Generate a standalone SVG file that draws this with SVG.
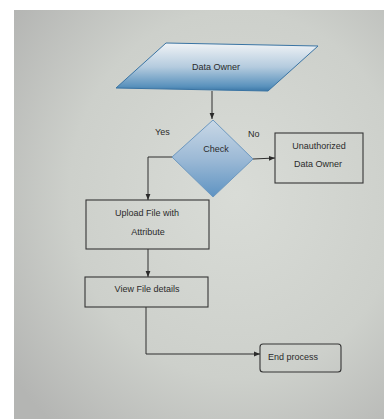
<svg xmlns="http://www.w3.org/2000/svg" width="384" height="419" viewBox="0 0 384 419">
  <defs>
    <radialGradient id="screen" cx="0.6" cy="0.45" r="0.75">
      <stop offset="0" stop-color="#d9dcd7"/>
      <stop offset="0.6" stop-color="#cdd0cb"/>
      <stop offset="1" stop-color="#b4b5b3"/>
    </radialGradient>
    <linearGradient id="blueFill" x1="0" y1="0" x2="0" y2="1">
      <stop offset="0" stop-color="#f0f3f6"/>
      <stop offset="0.5" stop-color="#b4cbde"/>
      <stop offset="0.9" stop-color="#5a92bd"/>
      <stop offset="1" stop-color="#3c78a8"/>
    </linearGradient>
    <linearGradient id="diamondFill" x1="0" y1="0" x2="0" y2="1">
      <stop offset="0" stop-color="#c9d8e6"/>
      <stop offset="0.5" stop-color="#9dbad6"/>
      <stop offset="1" stop-color="#5e93c2"/>
    </linearGradient>
    <marker id="arrow" viewBox="0 0 10 10" refX="10" refY="5" markerWidth="6" markerHeight="6" orient="auto">
      <path d="M0,1 L10,5 L0,9 z" fill="#2a2a2a"/>
    </marker>
  </defs>
  <style>
    .lbl { font-family: "Liberation Sans", Arial, sans-serif; font-size: 9px; fill: #2b2b2b; }
    .box { fill: none; stroke: #353535; stroke-width: 1.1; }
    .conn { fill: none; stroke: #2e2e2e; stroke-width: 1; marker-end: url(#arrow); }
  </style>

  <rect x="0" y="0" width="384" height="419" fill="#ffffff"/>
  <rect x="14" y="10" width="370" height="409" fill="url(#screen)"/>

  <g id="connectors">
    <path class="conn" d="M212,91 L212,119"/>
    <path class="conn" d="M253,159 L275,158"/>
    <path class="conn" d="M172,157 L148,157 L148,200"/>
    <path class="conn" d="M148,249 L148,277"/>
    <path class="conn" d="M146,307 L146,354 L260,354"/>
    <text class="lbl" x="155" y="135">Yes</text>
    <text class="lbl" x="248" y="137">No</text>
  </g>

  <g id="data-owner">
    <polygon points="166,43 318,46 268,91 116,88" fill="url(#blueFill)" stroke="#3a74a3" stroke-width="1"/>
    <text class="lbl" x="216" y="70" text-anchor="middle">Data Owner</text>
  </g>

  <g id="check">
    <polygon points="213,120 253,159 213,197 172,157" fill="url(#diamondFill)" stroke="#6d98bf" stroke-width="1"/>
    <text class="lbl" x="216" y="152" text-anchor="middle">Check</text>
  </g>

  <g id="unauthorized">
    <rect class="box" x="275" y="133" width="88" height="50"/>
    <text class="lbl" x="319" y="149" text-anchor="middle">Unauthorized</text>
    <text class="lbl" x="318" y="167" text-anchor="middle">Data Owner</text>
  </g>

  <g id="upload">
    <rect class="box" x="86" y="200" width="123" height="49"/>
    <text class="lbl" x="147" y="216" text-anchor="middle">Upload File with</text>
    <text class="lbl" x="148" y="235" text-anchor="middle">Attribute</text>
  </g>

  <g id="view">
    <rect class="box" x="85" y="277" width="123" height="30"/>
    <text class="lbl" x="147" y="292" text-anchor="middle">View File details</text>
  </g>

  <g id="end">
    <rect class="box" x="260" y="344" width="81" height="28" rx="3" ry="3"/>
    <text class="lbl" x="268" y="360">End process</text>
  </g>
</svg>
